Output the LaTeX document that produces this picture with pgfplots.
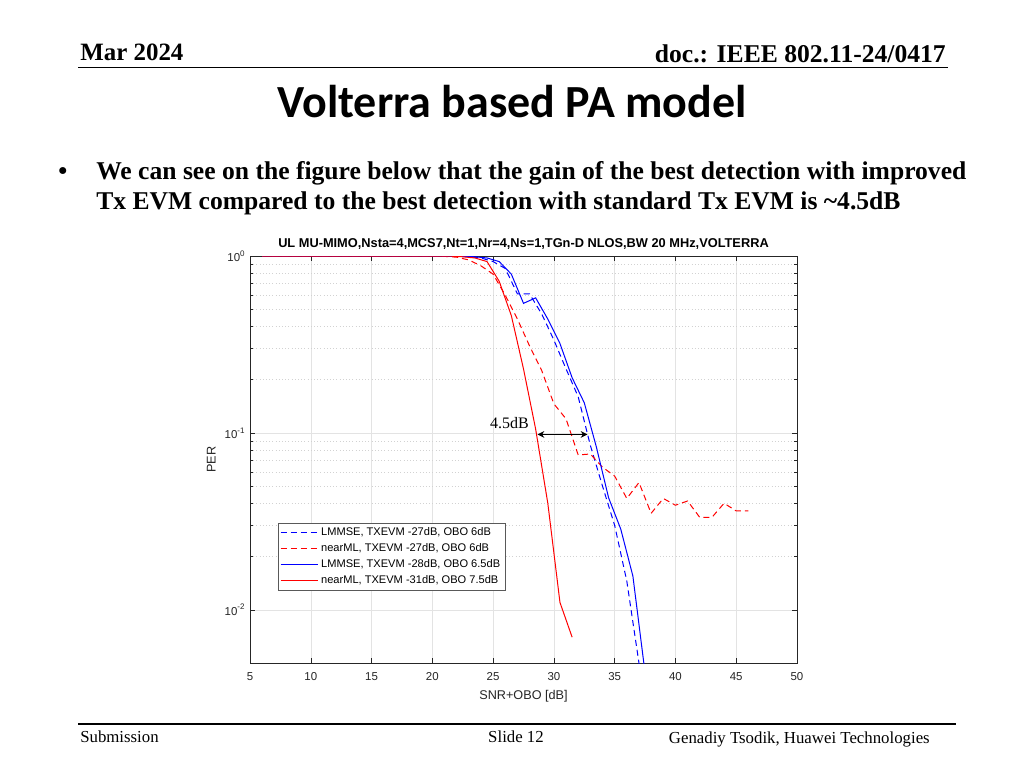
\documentclass[border=0pt]{standalone}
\usepackage{pgfplots}
\pgfplotsset{compat=1.18}
\usepackage{fontspec}
\setmainfont{Liberation Serif}
\setsansfont{Liberation Sans}
\newfontfamily\calibri{Carlito}
\usetikzlibrary{arrows.meta}

\definecolor{mblue}{rgb}{0,0,1}
\definecolor{mred}{rgb}{1,0,0}
\definecolor{axgray}{rgb}{0.15,0.15,0.15}

\begin{document}
\begin{tikzpicture}
  % slide frame, 1 px = 0.75pt, y pointing down
  \begin{scope}[x=0.75pt,y=-0.75pt]
    \fill[white] (0,0) rectangle (1024,768);
    \node[anchor=base west,inner sep=0,font=\bfseries\fontsize{18.7}{22}\selectfont] at (80,60) {Mar 2024};
    \node[anchor=base east,inner sep=0,font=\bfseries\fontsize{19.2}{22}\selectfont] at (946,62) {doc.: IEEE 802.11-24/0417};
    \draw[line width=1pt] (78,67.5) -- (948,67.5);
    \node[anchor=base,inner sep=0,font=\calibri\bfseries\fontsize{34.5}{40}\selectfont] at (512,117) {Volterra based PA model};
    \node[anchor=base west,inner sep=0,font=\bfseries\fontsize{19.2}{22}\selectfont] at (58,179) {•};
    \node[anchor=base west,inner sep=0,font=\bfseries\fontsize{19.2}{22}\selectfont] at (96,179) {We can see on the figure below that the gain of the best detection with improved};
    \node[anchor=base west,inner sep=0,font=\bfseries\fontsize{19.2}{22}\selectfont] at (96,209) {Tx EVM compared to the best detection with standard Tx EVM is \textasciitilde4.5dB};
    \draw[line width=1pt] (78,724) -- (956,724);
    \node[anchor=base west,inner sep=0,font=\fontsize{12.6}{14}\selectfont] at (80,742) {Submission};
    \node[anchor=base,inner sep=0,font=\fontsize{12.6}{14}\selectfont] at (516,742) {Slide 12};
    \node[anchor=base east,inner sep=0,font=\fontsize{12.6}{14}\selectfont] at (930,743) {Genadiy Tsodik, Huawei Technologies};
  \end{scope}

  \begin{axis}[
      at={(187.5pt,-497.25pt)}, anchor=south west,
      scale only axis, width=410.25pt, height=305.25pt,
      ymode=log, xmin=5, xmax=50, ymin=0.005, ymax=1,
      xtick={5,10,...,50},
      ytick={0.01,0.1,1},
      yticklabels={10\textsuperscript{-2},10\textsuperscript{-1},10\textsuperscript{0}},
      /pgf/number format/assume math mode=true,
      tick label style={font=\sffamily\fontsize{8.6}{10}\selectfont, text=axgray},
      xticklabel style={yshift=-3.5pt},
      label style={font=\sffamily\fontsize{9.5}{11}\selectfont, text=axgray},
      xlabel style={yshift=-0.5pt},
      xlabel={SNR+OBO [dB]}, ylabel={PER},
      title={UL MU-MIMO,Nsta=4,MCS7,Nt=1,Nr=4,Ns=1,TGn-D NLOS,BW 20 MHz,VOLTERRA},
      title style={font=\sffamily\bfseries\fontsize{9.6}{11}\selectfont, yshift=-5pt},
      axis line style={axgray, line width=0.4pt},
      tick style={axgray, line width=0.4pt},
      major tick length=3.5pt, minor tick length=2pt,
      grid=both,
      major grid style={gray!22, line width=0.4pt},
      minor grid style={gray!35, dotted, line width=0.4pt},
      legend style={at={(rel axis cs:0.051,0.344)}, anchor=north west,
        font=\sffamily\fontsize{8.3}{9}\selectfont, draw=gray!70!black,
        inner sep=1.5pt, row sep=0.3pt},
      legend cell align=left,
      legend image code/.code={\draw[#1] (0pt,0pt) -- (28pt,0pt);},
    ]
    % LMMSE, TXEVM -27dB, OBO 6dB
    \addplot[color=mblue, line width=0.75pt, dash pattern=on 4.5pt off 3pt] coordinates {
      (6,1)(8,1)(10,1)(12,1)(14,1)(16,1)(18,1)(20,1)(22,0.998)(23,0.99)
      (24,0.975)(25,0.93)(26,0.85)(27,0.61)(28,0.61)(29,0.47)(30,0.335)
      (31,0.23)(32,0.16)(33,0.085)(34,0.05)(35,0.03)(36,0.0145)(37,0.005)(38,0.0015)};
    \addlegendentry{LMMSE, TXEVM -27dB, OBO 6dB}
    % nearML, TXEVM -27dB, OBO 6dB
    \addplot[color=mred, line width=0.75pt, dash pattern=on 4.5pt off 3pt] coordinates {
      (6,1)(8,1)(10,1)(12,1)(14,1)(16,1)(18,1)(20,1)(21,0.995)(22,0.985)
      (23,0.95)(24,0.88)(25,0.79)(26,0.60)(27,0.44)(28,0.31)(29,0.225)
      (30,0.146)(31,0.12)(32,0.075)(33,0.076)(34,0.064)(35,0.057)(36,0.0426)
      (37,0.0524)(38,0.0351)(39,0.0426)(40,0.039)(41,0.0412)(42,0.0333)
      (43,0.0333)(44,0.040)(45,0.0362)(46,0.0362)};
    \addlegendentry{nearML, TXEVM -27dB, OBO 6dB}
    % LMMSE, TXEVM -28dB, OBO 6.5dB
    \addplot[color=mblue, line width=0.75pt] coordinates {
      (6.5,1)(8.5,1)(10.5,1)(12.5,1)(14.5,1)(16.5,1)(18.5,1)(20.5,1)(21.5,1)
      (22.5,0.995)(23.5,0.99)(24.5,0.975)(25.5,0.93)(26.5,0.79)(27.5,0.54)
      (28.5,0.58)(29.5,0.44)(30.5,0.32)(31.5,0.205)(32.5,0.148)(33.5,0.083)
      (34.5,0.043)(35.5,0.0286)(36.5,0.0155)(37.5,0.0044)};
    \addlegendentry{LMMSE, TXEVM -28dB, OBO 6.5dB}
    % nearML, TXEVM -31dB, OBO 7.5dB
    \addplot[color=mred, line width=0.75pt] coordinates {
      (6.5,1)(8.5,1)(10.5,1)(12.5,1)(14.5,1)(16.5,1)(18.5,1)(20.5,1)
      (21.5,0.998)(22.5,0.99)(23.5,0.975)(24.5,0.93)(25.5,0.72)(26.5,0.46)
      (27.5,0.23)(28.5,0.105)(29.5,0.040)(30.5,0.011)(31.5,0.0070)};
    \addlegendentry{nearML, TXEVM -31dB, OBO 7.5dB}

    % 4.5 dB gap annotation
    \draw[{Stealth[length=5pt,width=5pt]}-{Stealth[length=5pt,width=5pt]}, line width=1.1pt, black]
      (axis cs:28.66,0.098) -- (axis cs:32.76,0.098);
    \node[font=\fontsize{12}{14}\selectfont, inner sep=0] at (axis cs:26.35,0.113) {4.5dB};
  \end{axis}
\end{tikzpicture}
\end{document}
